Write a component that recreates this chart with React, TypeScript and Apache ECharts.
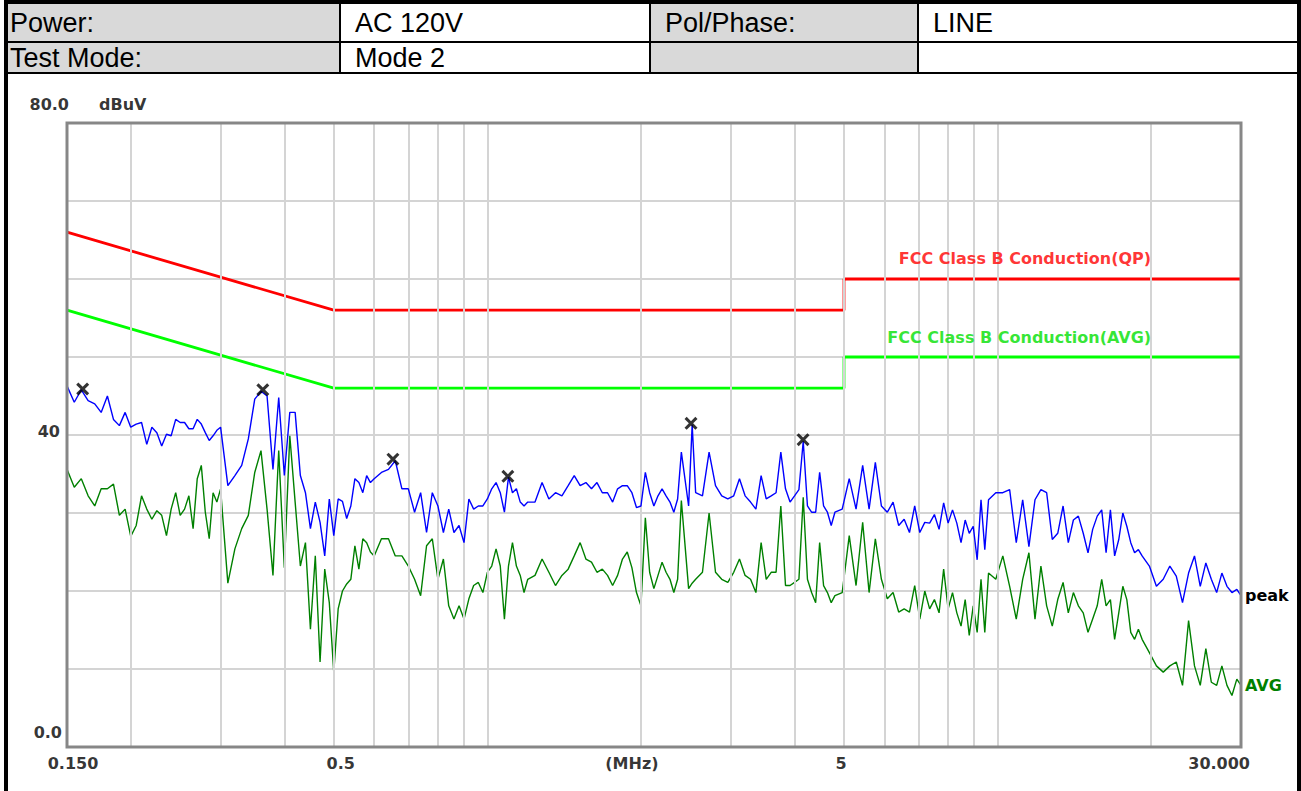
import React, { useEffect, useRef } from "react";
import * as echarts from "echarts";

// Frequency points of the scan (MHz)
const FREQ_MHZ = [
  0.150, 0.155, 0.160, 0.165, 0.170, 0.175, 0.180, 0.185, 0.190, 0.195,
  0.200, 0.205, 0.210, 0.215, 0.220, 0.225, 0.230, 0.235, 0.240, 0.245,
  0.250, 0.255, 0.260, 0.265, 0.270, 0.275, 0.280, 0.285, 0.290, 0.295, 0.300,
  0.31, 0.32, 0.33, 0.34, 0.35, 0.36, 0.37, 0.38, 0.39, 0.40,
  0.41, 0.42, 0.43, 0.44, 0.45, 0.46, 0.47, 0.48, 0.49, 0.50,
  0.51, 0.52, 0.53, 0.54, 0.55, 0.56, 0.57, 0.58, 0.59, 0.60,
  0.62, 0.64, 0.66, 0.68, 0.70, 0.72, 0.74, 0.76, 0.78, 0.80,
  0.82, 0.84, 0.86, 0.88, 0.90, 0.92, 0.94, 0.96, 0.98, 1.00,
  1.02, 1.04, 1.06, 1.08, 1.10, 1.12, 1.14, 1.16, 1.18, 1.20,
  1.24, 1.28, 1.32, 1.36, 1.40, 1.44, 1.48, 1.52, 1.56, 1.60,
  1.64, 1.68, 1.72, 1.76, 1.80, 1.84, 1.88, 1.92, 1.96, 2.00,
  2.04, 2.08, 2.12, 2.16, 2.20, 2.24, 2.28, 2.32, 2.36, 2.40,
  2.48, 2.52, 2.56, 2.64, 2.72, 2.80, 2.88, 2.96, 3.04, 3.12, 3.20,
  3.28, 3.36, 3.44, 3.52, 3.60, 3.68, 3.76, 3.84, 3.92, 4.00,
  4.08, 4.16, 4.24, 4.32, 4.40, 4.48, 4.56, 4.64, 4.72, 4.80,
  4.96, 5.12, 5.28, 5.44, 5.60, 5.76, 5.92, 6.08, 6.24, 6.40,
  6.56, 6.72, 6.88, 7.04, 7.20, 7.36, 7.52, 7.68, 7.84, 8.00,
  8.16, 8.32, 8.48, 8.64, 8.80, 8.96, 9.12, 9.28, 9.44, 9.60,
  9.92, 10.24, 10.56, 10.88, 11.20, 11.52, 11.84, 12.16, 12.48, 12.80,
  13.12, 13.44, 13.76, 14.08, 14.40, 14.72, 15.04, 15.36, 15.68, 16.00,
  16.32, 16.64, 16.96, 17.28, 17.60, 17.92, 18.24, 18.56, 18.88, 19.20,
  19.84, 20.48, 21.12, 21.76, 22.40, 23.04, 23.68, 24.32, 24.96, 25.60,
  26.24, 26.88, 27.52, 28.16, 28.80, 29.44, 30.00,
];

// Peak trace (dBuV)
const PEAK_DBUV = [
  46.3, 44.2, 45.8, 44.4, 44.0, 42.9, 45.0, 42.0, 41.2, 42.9,
  41.0, 41.4, 41.6, 38.8, 41.0, 40.3, 38.6, 40.1, 39.9, 42.0,
  41.6, 41.6, 40.8, 40.8, 42.0, 41.4, 40.3, 39.3, 39.9, 40.6, 41.0,
  33.5, 34.8, 36.1, 39.5, 44.6, 45.6, 45.0, 35.6, 44.8, 34.8,
  42.9, 42.9, 34.8, 32.6, 28.0, 31.4, 28.8, 24.5, 31.8, 27.1,
  31.8, 31.5, 29.3, 30.9, 34.4, 33.9, 32.6, 34.8, 33.9, 34.4,
  35.2, 35.6, 36.7, 33.1, 33.1, 30.1, 32.6, 27.5, 32.6, 30.9,
  27.5, 30.5, 27.5, 28.4, 26.2, 31.8, 30.5, 30.9, 30.9, 31.8,
  33.1, 33.9, 32.6, 30.1, 34.6, 32.6, 33.1, 31.4, 30.9, 31.4,
  31.4, 33.9, 31.8, 32.6, 32.2, 33.5, 34.8, 33.5, 33.9, 33.1,
  33.9, 32.6, 32.6, 31.4, 33.1, 33.5, 33.5, 32.6, 30.7, 30.9,
  35.2, 32.6, 30.9, 32.2, 33.1, 32.2, 31.4, 30.1, 31.8, 37.8,
  30.9, 41.3, 32.6, 32.2, 37.8, 33.5, 32.2, 31.8, 32.2, 34.4, 32.2,
  31.4, 30.5, 34.8, 31.8, 32.2, 32.6, 37.8, 33.1, 31.4, 32.2,
  33.0, 39.2, 30.9, 30.1, 30.1, 35.2, 30.9, 30.1, 28.4, 30.1,
  30.5, 34.4, 30.5, 36.1, 30.5, 36.5, 30.9, 30.1, 31.4, 28.4,
  29.2, 27.5, 30.9, 27.5, 28.8, 28.7, 29.8, 27.9, 31.3, 28.7,
  30.4, 28.7, 26.2, 29.1, 27.4, 28.3, 24.0, 31.7, 25.3, 31.7,
  32.6, 32.6, 33.0, 26.2, 31.7, 25.7, 31.7, 33.0, 32.6, 26.6,
  27.4, 30.9, 26.2, 29.1, 29.6, 27.4, 24.9, 27.9, 29.6, 30.4,
  24.9, 30.4, 24.5, 26.6, 30.0, 28.3, 26.2, 24.9, 25.3, 24.5,
  23.2, 20.6, 21.5, 23.2, 21.9, 18.5, 22.3, 24.5, 20.6, 23.6,
  21.5, 19.8, 22.3, 20.6, 19.8, 20.2, 19.4,
];

// Average trace (dBuV)
const AVG_DBUV = [
  35.6, 33.3, 34.4, 32.2, 30.9, 33.1, 33.1, 33.7, 29.7, 30.5,
  27.0, 28.4, 32.2, 30.5, 29.2, 30.3, 29.7, 27.1, 30.5, 32.6,
  29.7, 30.5, 32.2, 28.0, 34.4, 36.1, 30.1, 26.7, 32.6, 31.4, 33.1,
  21.0, 25.4, 28.0, 29.7, 35.2, 38.0, 30.5, 22.0, 38.0, 23.0,
  39.9, 31.4, 23.2, 26.2, 15.1, 24.5, 10.9, 22.8, 18.5, 9.6,
  17.7, 20.0, 20.9, 21.5, 25.8, 22.8, 26.7, 26.2, 25.0, 24.5,
  26.7, 26.7, 24.5, 24.5, 23.2, 21.5, 19.4, 25.8, 26.7, 21.5,
  24.1, 18.1, 16.4, 18.1, 16.4, 19.0, 20.7, 21.1, 19.8, 22.4,
  23.2, 25.4, 23.2, 16.4, 23.2, 26.2, 23.2, 22.0, 19.8, 21.5,
  22.0, 24.1, 22.4, 20.7, 22.0, 22.8, 24.5, 26.2, 24.1, 23.7,
  22.4, 22.8, 22.0, 20.7, 22.0, 24.1, 25.0, 23.0, 19.8, 18.1,
  29.4, 22.4, 20.3, 22.0, 23.7, 22.4, 21.5, 19.8, 21.5, 31.6,
  20.3, 21.0, 21.5, 22.4, 30.0, 22.4, 21.5, 21.1, 22.4, 24.1, 22.0,
  21.5, 19.8, 26.2, 21.5, 22.4, 22.4, 30.9, 20.7, 20.7, 21.1,
  21.5, 32.0, 21.5, 19.8, 18.5, 26.2, 20.7, 19.8, 18.5, 19.4,
  19.8, 27.1, 20.7, 28.8, 19.8, 26.7, 21.5, 19.0, 19.8, 17.3,
  17.7, 17.3, 20.7, 16.4, 20.0, 17.7, 18.9, 17.2, 22.8, 17.7,
  19.8, 17.2, 15.5, 18.9, 14.3, 18.1, 14.7, 21.5, 14.7, 22.3,
  21.5, 24.5, 20.6, 16.4, 21.5, 24.9, 16.4, 23.2, 18.1, 15.5,
  18.9, 21.1, 17.2, 19.8, 18.1, 17.2, 14.7, 16.4, 18.1, 21.5,
  18.1, 18.9, 13.8, 17.2, 20.6, 18.9, 14.7, 13.8, 15.1, 13.8,
  12.1, 10.4, 9.6, 10.4, 10.9, 7.9, 16.2, 10.4, 7.9, 12.6,
  8.3, 7.9, 10.4, 7.9, 6.6, 8.7, 7.9,
];

// Limit lines [MHz, dBuV]
const QP_LIMIT = [[0.15, 66], [0.5, 56], [5, 56], [5, 60], [30, 60]];
const AVG_LIMIT = [[0.15, 56], [0.5, 46], [5, 46], [5, 50], [30, 50]];

// Peak markers [MHz, dBuV]
const MARKERS = [[0.161, 45.9], [0.363, 45.8], [0.653, 36.9], [1.097, 34.7], [2.507, 41.5], [4.157, 39.4]];

// Vertical grid frequencies (MHz)
const GRID_FREQS = [0.2, 0.3, 0.4, 0.5, 0.6, 0.7, 0.8, 0.9, 1, 2, 3, 4, 5, 6, 7, 8, 9, 10, 20];

// Axis tick labels
const X_TICKS = [0.15, 0.5, 1.92, 5, 30];
const X_TICK_TEXT = ["0.150", "0.5", "(MHz)", "5", "30.000"];
const Y_TICKS = [80, 40, 0];
const Y_TICK_TEXT = ["80.0", "40", "0.0"];
const Y_UNIT = "dBuV";

const QP_LABEL = "FCC Class B Conduction(QP)";
const AVG_LABEL = "FCC Class B Conduction(AVG)";
const LABEL_FREQ = 20;

const TABLE_ROWS = [
  ["Power:", "AC 120V", "Pol/Phase:", "LINE"],
  ["Test Mode:", "Mode 2", "", ""],
];

export default function App() {
  const ref = useRef<HTMLDivElement>(null);

  useEffect(() => {
    if (!ref.current) return;
    const chart = echarts.init(ref.current, undefined, { renderer: "svg" });

    const chartFont = { fontFamily: "DejaVu Sans", fontWeight: "bold" as const, fontSize: 16 };

    const xOffsets: Record<string, any> = {
      "0.150": { align: "center", offset: [6, 16] },
      "0.5": { align: "center", offset: [7, 16] },
      "(MHz)": { align: "center", offset: [0, 16] },
      "5": { align: "center", offset: [-3, 16] },
      "30.000": { align: "right", offset: [9, 16] },
    };
    const yOffsets: Record<string, any> = {
      "80.0": { align: "right", offset: [2, -19] },
      "40": { align: "right", offset: [-7, -4] },
      "0.0": { align: "right", offset: [-5, -15] },
    };

    const labelItem = (value: number[], text: string, extra: any) => ({
      value,
      label: {
        show: true,
        position: "inside",
        formatter: text,
        verticalAlign: "middle",
        color: "#000",
        ...chartFont,
        ...extra,
      },
    });

    const labelData: any[] = [];
    X_TICKS.forEach((f, i) => labelData.push(labelItem([f, 0], X_TICK_TEXT[i], xOffsets[X_TICK_TEXT[i]])));
    Y_TICKS.forEach((v, i) => labelData.push(labelItem([X_TICKS[0], v], Y_TICK_TEXT[i], yOffsets[Y_TICK_TEXT[i]])));
    labelData.push(labelItem([X_TICKS[0], Y_TICKS[0]], Y_UNIT, { align: "left", offset: [32, -19] }));
    labelData.push(labelItem([LABEL_FREQ, QP_LIMIT[QP_LIMIT.length - 1][1]], QP_LABEL, { align: "right", offset: [0, -21], color: "#ff0000" }));
    labelData.push(labelItem([LABEL_FREQ, AVG_LIMIT[AVG_LIMIT.length - 1][1]], AVG_LABEL, { align: "right", offset: [0, -20], color: "#00e000" }));

    // Table graphics
    const colX = [8, 340, 650, 918, 1297];
    const rowY = [4, 42, 73];
    const tableFont = '27px "Liberation Sans", Arial, sans-serif';
    const graphics: any[] = [];
    [0, 2].forEach((c) => {
      graphics.push({
        type: "rect",
        shape: { x: colX[c], y: rowY[0], width: colX[c + 1] - colX[c], height: rowY[2] - rowY[0] },
        style: { fill: "#d9d9d9" },
        z: 1,
      });
    });
    graphics.push({ type: "rect", shape: { x: 4, y: 0, width: 1297, height: 4 }, style: { fill: "#000" }, z: 5 });
    graphics.push({ type: "rect", shape: { x: 4, y: 0, width: 4, height: 791 }, style: { fill: "#000" }, z: 5 });
    graphics.push({ type: "rect", shape: { x: 1297, y: 0, width: 4, height: 791 }, style: { fill: "#000" }, z: 5 });
    [rowY[1], rowY[2]].forEach((y) => {
      graphics.push({ type: "rect", shape: { x: 8, y: y - 1, width: 1289, height: 2 }, style: { fill: "#000" }, z: 5 });
    });
    [colX[1], colX[2], colX[3]].forEach((x) => {
      graphics.push({ type: "rect", shape: { x: x - 1, y: rowY[0], width: 2, height: rowY[2] - rowY[0] }, style: { fill: "#000" }, z: 5 });
    });
    TABLE_ROWS.forEach((row, r) => {
      row.forEach((txt, c) => {
        if (!txt) return;
        graphics.push({
          type: "text",
          x: colX[c] + (c === 0 ? 2 : 15),
          y: (rowY[r] + rowY[r + 1]) / 2,
          style: { text: txt, font: tableFont, fill: "#000", align: "left", verticalAlign: "middle" },
          z: 6,
        });
      });
    });
    graphics.push({
      type: "rect",
      shape: { x: 67, y: 123, width: 1174, height: 624 },
      style: { fill: "none", stroke: "#878787", lineWidth: 3 },
      z: 100,
    });

    const option: any = {
      animation: false,
      backgroundColor: "#ffffff",
      grid: { left: 67, top: 123, width: 1174, height: 624, show: false },
      xAxis: {
        type: "log",
        logBase: 10,
        min: 0.15,
        max: 30,
        axisLine: { show: false },
        axisTick: { show: false },
        axisLabel: { show: false },
        splitLine: { show: false },
        minorSplitLine: { show: false },
      },
      yAxis: {
        type: "value",
        min: 0,
        max: 80,
        interval: 10,
        axisLine: { show: false },
        axisTick: { show: false },
        axisLabel: { show: false },
        splitLine: { show: true, lineStyle: { color: "#d4d4d4", width: 2 } },
      },
      graphic: { elements: graphics },
      series: [
        {
          name: "vgrid",
          type: "line",
          z: 1,
          data: [[0.15, 0]],
          symbol: "none",
          lineStyle: { opacity: 0 },
          silent: true,
          markLine: {
            silent: true,
            symbol: ["none", "none"],
            label: { show: false },
            lineStyle: { color: "#d4d4d4", width: 2, type: "solid" },
            data: GRID_FREQS.map((f) => ({ xAxis: f })),
          },
        },
        {
          name: "QP limit",
          type: "line",
          z: 3,
          data: QP_LIMIT,
          symbol: "none",
          lineStyle: { color: "#ff0000", width: 2.8 },
        },
        {
          name: "AVG limit",
          type: "line",
          z: 3,
          data: AVG_LIMIT,
          symbol: "none",
          lineStyle: { color: "#00ff00", width: 2.8 },
        },
        {
          name: "AVG",
          type: "line",
          z: 4,
          data: FREQ_MHZ.map((f, i) => [f, AVG_DBUV[i]]),
          symbol: "none",
          lineStyle: { color: "#008000", width: 1.4 },
          endLabel: { show: true, formatter: "AVG", color: "#008000", distance: 4, ...chartFont },
        },
        {
          name: "peak",
          type: "line",
          z: 5,
          data: FREQ_MHZ.map((f, i) => [f, PEAK_DBUV[i]]),
          symbol: "none",
          lineStyle: { color: "#0000ff", width: 1.4 },
          endLabel: { show: true, formatter: "peak", color: "#000", distance: 4, ...chartFont },
        },
        {
          name: "markers",
          type: "scatter",
          z: 6,
          data: MARKERS,
          symbol: "path://M0,2 L2,0 L6,4 L10,0 L12,2 L8,6 L12,10 L10,12 L6,8 L2,12 L0,10 L4,6 Z",
          symbolSize: 13,
          itemStyle: { color: "#000" },
        },
        {
          name: "labels",
          type: "scatter",
          z: 7,
          clip: false,
          silent: true,
          symbolSize: 1,
          itemStyle: { color: "transparent" },
          data: labelData,
        },
      ],
    };

    chart.setOption(option);
    return () => chart.dispose();
  }, []);

  return (
    <div
      ref={ref}
      style={{ position: "fixed", left: 0, top: 0, width: 1301, height: 791, background: "#fff" }}
    />
  );
}
